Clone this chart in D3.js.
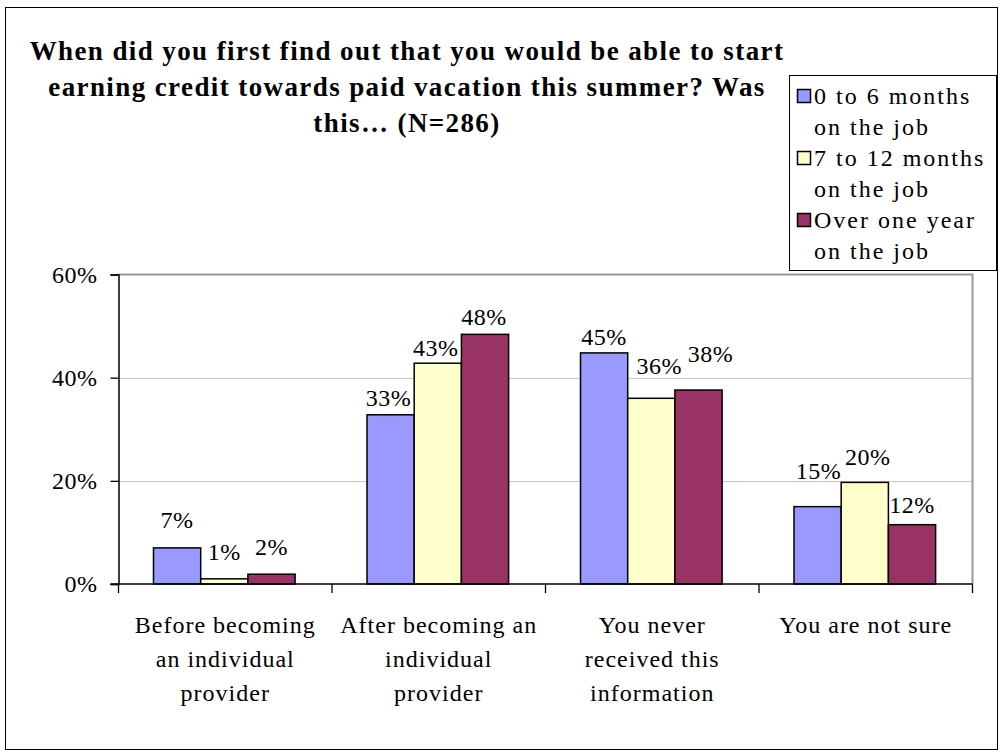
<!DOCTYPE html>
<html>
<head>
<meta charset="utf-8">
<script src="https://cdn.jsdelivr.net/npm/d3@7"></script>
<style>
  body { margin: 0; background: #fff; }
  svg text { font-family: "Liberation Serif", "DejaVu Serif", "Times New Roman", serif; fill: #000; }
</style>
</head>
<body>
<div id="chart"></div>
<script>
var categories = [
  ['Before becoming', 'an individual', 'provider'],
  ['After becoming an', 'individual', 'provider'],
  ['You never', 'received this', 'information'],
  ['You are not sure']
];
var seriesNames = [
  ['0 to 6 months', 'on the job'],
  ['7 to 12 months', 'on the job'],
  ['Over one year', 'on the job']
];
var seriesColors = ['#9999ff', '#ffffcc', '#993366'];
var shortMonths = [7, 32.8, 44.8, 15];
var midMonths = [1, 42.8, 36, 19.7];
var overYear = [1.9, 48.4, 37.6, 11.5];
var barLabels = [
  ['7%', '33%', '45%', '15%'],
  ['1%', '43%', '36%', '20%'],
  ['2%', '48%', '38%', '12%']
];
var yTicks = [0, 20, 40, 60];
var titleLines = [
  'When did you first find out that you would be able to start',
  'earning credit towards paid vacation this summer? Was',
  'this\u2026 (N=286)'
];

var values = [shortMonths, midMonths, overYear];
var chartWidth = 1000;
var chartHeight = 756;
var plot = {left: 118.5, right: 972.5, top: 274.5, bottom: 584};

// label nudges (dx, gap above bar) as placed in the original
var labelNudge = [
  [[0, 20], [-2, 9], [0, 8], [1, 28]],
  [[0, 19], [-2, 7], [8, 24], [3, 17]],
  [[0, 19], [-1, 9], [12, 28], [0, 12]]
];

var svg = d3.select('#chart')
    .append('svg')
    .attr('width', chartWidth)
    .attr('height', chartHeight);

// outer frame
svg.append('rect')
    .attr('x', 5.5).attr('y', 7.5)
    .attr('width', 992).attr('height', 742)
    .attr('fill', '#fff').attr('stroke', '#000').attr('stroke-width', 1);

// scales
var scaleX = d3.scaleBand()
    .domain(d3.range(categories.length))
    .range([plot.left, plot.right]);

var scaleY = d3.scaleLinear()
    .domain([0, 60])
    .range([plot.bottom, plot.top]);

var barW = 47.2;
var groupOffset = 35;

// grid lines
svg.selectAll('.grid')
    .data(yTicks.filter(function(d) { return d > 0 && d < 60; }))
    .enter()
    .append('line')
    .attr('x1', plot.left).attr('x2', plot.right)
    .attr('y1', function(d) { return Math.round(scaleY(d)) + 0.5; })
    .attr('y2', function(d) { return Math.round(scaleY(d)) + 0.5; })
    .attr('stroke', '#c8c8c8').attr('stroke-width', 1);

// plot area border (top & right)
svg.append('path')
    .attr('d', 'M' + plot.left + ',' + plot.top + 'H' + plot.right + 'V' + plot.bottom)
    .attr('fill', 'none').attr('stroke', '#999').attr('stroke-width', 2);

// bars
values.forEach(function(series, s) {
  svg.selectAll('.bar' + s)
      .data(series)
      .enter()
      .append('rect')
      .attr('x', function(d, i) { return scaleX(i) + groupOffset + s * barW; })
      .attr('y', function(d) { return scaleY(d); })
      .attr('width', barW)
      .attr('height', function(d) { return scaleY(0) - scaleY(d); })
      .attr('fill', seriesColors[s])
      .attr('stroke', '#000')
      .attr('stroke-width', 1.5);

  svg.selectAll('.lbl' + s)
      .data(series)
      .enter()
      .append('text')
      .attr('x', function(d, i) { return scaleX(i) + groupOffset + s * barW + barW / 2 + labelNudge[s][i][0]; })
      .attr('y', function(d, i) { return scaleY(d) - labelNudge[s][i][1]; })
      .attr('text-anchor', 'middle')
      .attr('font-size', 24)
      .attr('letter-spacing', 0.5)
      .text(function(d, i) { return barLabels[s][i]; });
});

// y axis
var yAxis = svg.append('g')
    .attr('transform', 'translate(' + plot.left + ',0)')
    .call(d3.axisLeft(scaleY).tickValues(yTicks).tickSize(8).tickFormat(function(d) { return d + '%'; }));
yAxis.select('.domain').attr('stroke', '#000').attr('stroke-width', 1.5);
yAxis.selectAll('.tick line').attr('stroke', '#000').attr('stroke-width', 1.3);
yAxis.selectAll('.tick text')
    .attr('font-size', 24)
    .attr('letter-spacing', 0.5)
    .attr('fill', '#000')
    .attr('x', -21)
    .attr('dy', '0.33em');

// x axis
svg.append('line')
    .attr('x1', plot.left - 8).attr('x2', plot.right)
    .attr('y1', plot.bottom).attr('y2', plot.bottom)
    .attr('stroke', '#000').attr('stroke-width', 1.5);
svg.selectAll('.xtick')
    .data(d3.range(categories.length + 1))
    .enter()
    .append('line')
    .attr('x1', function(d) { return plot.left + d * scaleX.step(); })
    .attr('x2', function(d) { return plot.left + d * scaleX.step(); })
    .attr('y1', plot.bottom).attr('y2', plot.bottom + 9)
    .attr('stroke', '#000').attr('stroke-width', 1.3);

// category labels
categories.forEach(function(lines, i) {
  svg.append('text')
      .attr('text-anchor', 'middle')
      .attr('font-size', 24)
      .attr('letter-spacing', 1)
      .selectAll('tspan')
      .data(lines)
      .enter()
      .append('tspan')
      .attr('x', scaleX(i) + scaleX.bandwidth() / 2)
      .attr('y', function(d, j) { return 633 + j * 34; })
      .text(function(d) { return d; });
});

// title
svg.append('text')
    .attr('text-anchor', 'middle')
    .attr('font-size', 27)
    .attr('font-weight', 'bold')
    .attr('letter-spacing', 1.4)
    .selectAll('tspan')
    .data(titleLines)
    .enter()
    .append('tspan')
    .attr('x', 407)
    .attr('y', function(d, j) { return 60 + j * 36; })
    .text(function(d) { return d; });

// legend
var legend = svg.append('g');
legend.append('rect')
    .attr('x', 789.5).attr('y', 75.5)
    .attr('width', 207).attr('height', 195)
    .attr('fill', '#fff').attr('stroke', '#000');
seriesNames.forEach(function(lines, s) {
  var y0 = 104 + s * 62;
  legend.append('rect')
      .attr('x', 797.5).attr('y', y0 - 14.5)
      .attr('width', 13).attr('height', 13)
      .attr('fill', seriesColors[s])
      .attr('stroke', '#000').attr('stroke-width', 1.5);
  legend.selectAll('.leg' + s)
      .data(lines)
      .enter()
      .append('text')
      .attr('x', 814)
      .attr('y', function(d, j) { return y0 + j * 31; })
      .attr('font-size', 24)
      .attr('letter-spacing', 2)
      .text(function(d) { return d; });
});
</script>
</body>
</html>
